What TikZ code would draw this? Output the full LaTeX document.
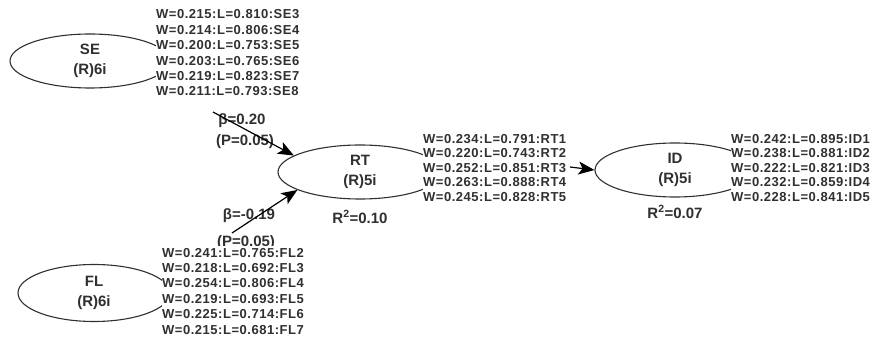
\documentclass[tikz,border=0pt]{standalone}
\usepackage{fontspec}
\setmainfont{Liberation Sans}
\newfontfamily\wfont[LetterSpace=4]{Liberation Sans}
\usetikzlibrary{arrows.meta,shapes.geometric}
\definecolor{ink}{HTML}{303030}
\begin{document}
\begin{tikzpicture}[x=1pt,y=-1pt,
  lv/.style={ellipse, draw=ink, line width=1.1pt, inner sep=0pt, text=ink,
    align=center, font=\bfseries\fontsize{15}{20}\selectfont},
  ind/.style={anchor=north west, inner sep=0pt, inner ysep=1.5pt, fill=white, text=ink,
    align=left, font=\wfont\bfseries\fontsize{13}{15.4}\selectfont},
  indb/.style={ind, font=\wfont\bfseries\fontsize{13}{14.4}\selectfont},
  coef/.style={text=ink, inner sep=0pt, font=\bfseries\fontsize{15}{16}\selectfont},
  arr/.style={draw=black, line width=1.2pt, -{Stealth[length=16pt,width=13pt,inset=4pt]}}]
\useasboundingbox[fill=white] (0,0) rectangle (885,344);

% latent variables
\node[lv, minimum width=160pt, minimum height=54pt] (SE) at (90,61) {SE\\(R)6i};
\node[lv, minimum width=164pt, minimum height=54pt] (RT) at (360,172) {RT\\(R)5i};
\node[lv, minimum width=160pt, minimum height=54pt] (ID) at (675,170) {ID\\(R)5i};
\node[lv, minimum width=152pt, minimum height=57pt] (FL) at (94,293) {FL\\(R)6i};

% path coefficients
\node[coef] (b1) at (242,121) {β=0.20};
\node[coef] (p1) at (245,142) {(P=0.05)};
\node[coef] (b2) at (249,216) {β=-0.19};
\node[coef] (p2) at (246,243) {(P=0.05)};

% R squared
\node[coef] (r1) at (360,217) {R\textsuperscript{2}=0.10};
\node[coef] (r2) at (675,212) {R\textsuperscript{2}=0.07};

% indicator blocks
\node[ind] (SEw) at (156,8.2) {W=0.215:L=0.810:SE3\\W=0.214:L=0.806:SE4\\W=0.200:L=0.753:SE5\\W=0.203:L=0.765:SE6\\W=0.219:L=0.823:SE7\\W=0.211:L=0.793:SE8};
\node[indb] (RTw) at (423,132.8) {W=0.234:L=0.791:RT1\\W=0.220:L=0.743:RT2\\W=0.252:L=0.851:RT3\\W=0.263:L=0.888:RT4\\W=0.245:L=0.828:RT5};
\node[indb] (IDw) at (731,132.8) {W=0.242:L=0.895:ID1\\W=0.238:L=0.881:ID2\\W=0.222:L=0.821:ID3\\W=0.232:L=0.859:ID4\\W=0.228:L=0.841:ID5};
\node[ind] (FLw) at (162,246.3) {W=0.241:L=0.765:FL2\\W=0.218:L=0.692:FL3\\W=0.254:L=0.806:FL4\\W=0.219:L=0.693:FL5\\W=0.225:L=0.714:FL6\\W=0.215:L=0.681:FL7};

% connectors
\coordinate (s1) at (213,112);
\coordinate (s2) at (232,233);
\coordinate (s3) at (570,167);
\draw[arr] (s1) -- (RT.166);
\draw[arr] (s2) -- (RT.196);
\draw[arr] (s3) -- (ID.west);
\end{tikzpicture}
\end{document}
